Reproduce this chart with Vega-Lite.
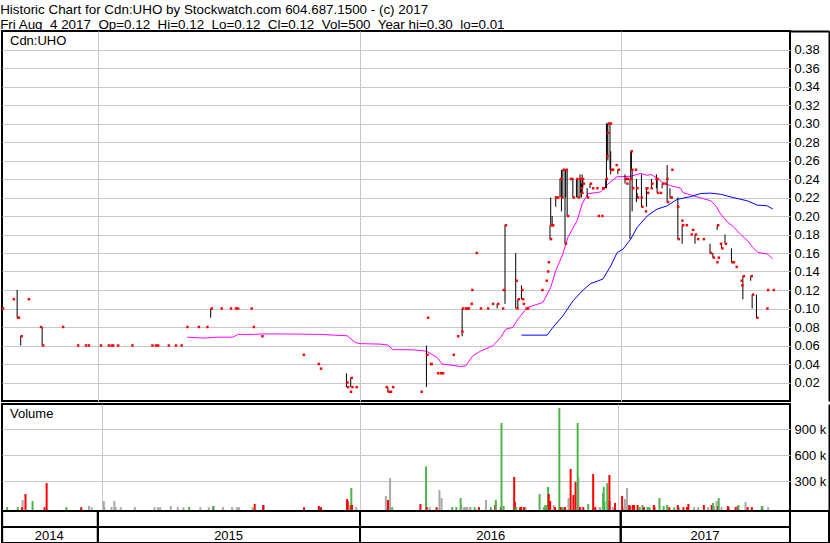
{
  "$schema": "https://vega.github.io/schema/vega-lite/v6.json",
  "padding": {"left": 0, "top": 2, "right": 0, "bottom": 0},
  "background": "white",
  "title": {
    "text": [
      "Historic Chart for Cdn:UHO by Stockwatch.com 604.687.1500 - (c) 2017",
      "Fri Aug\u00a0 4 2017\u00a0 Op=0.12\u00a0 Hi=0.12\u00a0 Lo=0.12\u00a0 Cl=0.12\u00a0 Vol=500\u00a0 Year hi=0.30\u00a0 lo=0.01"
    ],
    "anchor": "start",
    "frame": "bounds",
    "font": "Liberation Sans",
    "fontSize": 13.4,
    "fontWeight": "normal",
    "color": "black",
    "lineHeight": 15,
    "baseline": "top",
    "offset": -2
  },
  "config": {
    "view": {"stroke": "black", "strokeWidth": 2},
    "axis": {"labelFont": "Liberation Sans", "labelFontSize": 13, "labelColor": "black"},
    "title": {"font": "Liberation Sans", "fontWeight": "normal", "color": "black"}
  },
  "datasets": {
    "prices": [
      {"d": "2014-08-21", "h": 0.10, "l": 0.08, "c": 0.10},
      {"d": "2014-09-05", "c": 0.11},
      {"d": "2014-09-11", "h": 0.12, "l": 0.09, "c": 0.09},
      {"d": "2014-09-12", "c": 0.09},
      {"d": "2014-09-16", "h": 0.07, "l": 0.06, "c": 0.07},
      {"d": "2014-09-26", "c": 0.11},
      {"d": "2014-10-13", "c": 0.08},
      {"d": "2014-10-16", "h": 0.08, "l": 0.06, "c": 0.06},
      {"d": "2014-11-13", "c": 0.08},
      {"d": "2014-12-04", "c": 0.06},
      {"d": "2014-12-15", "c": 0.06},
      {"d": "2014-12-19", "c": 0.06},
      {"d": "2015-01-05", "c": 0.06},
      {"d": "2015-01-16", "c": 0.06},
      {"d": "2015-01-20", "c": 0.06},
      {"d": "2015-01-22", "c": 0.06},
      {"d": "2015-01-29", "c": 0.06},
      {"d": "2015-02-18", "c": 0.06},
      {"d": "2015-03-18", "c": 0.06},
      {"d": "2015-03-23", "c": 0.06},
      {"d": "2015-03-26", "c": 0.06},
      {"d": "2015-04-10", "c": 0.06},
      {"d": "2015-04-20", "c": 0.06},
      {"d": "2015-04-28", "c": 0.06},
      {"d": "2015-05-06", "c": 0.08},
      {"d": "2015-05-22", "c": 0.08},
      {"d": "2015-06-03", "c": 0.08},
      {"d": "2015-06-09", "h": 0.10, "l": 0.09, "c": 0.10},
      {"d": "2015-06-23", "c": 0.10},
      {"d": "2015-07-06", "c": 0.10},
      {"d": "2015-07-13", "c": 0.10},
      {"d": "2015-07-16", "c": 0.10},
      {"d": "2015-08-04", "c": 0.10},
      {"d": "2015-08-07", "c": 0.08},
      {"d": "2015-08-19", "c": 0.07},
      {"d": "2015-10-16", "c": 0.05},
      {"d": "2015-11-06", "c": 0.04},
      {"d": "2015-11-09", "c": 0.035},
      {"d": "2015-12-16", "h": 0.03, "l": 0.015, "c": 0.02},
      {"d": "2015-12-17", "c": 0.015},
      {"d": "2015-12-21", "c": 0.01},
      {"d": "2015-12-22", "h": 0.025, "l": 0.015, "c": 0.025},
      {"d": "2015-12-23", "c": 0.015},
      {"d": "2015-12-29", "c": 0.015},
      {"d": "2016-02-09", "c": 0.015},
      {"d": "2016-02-12", "h": 0.015, "l": 0.01, "c": 0.01},
      {"d": "2016-02-15", "c": 0.01},
      {"d": "2016-02-18", "c": 0.015},
      {"d": "2016-03-29", "c": 0.01},
      {"d": "2016-04-06", "h": 0.06, "l": 0.015, "c": 0.05},
      {"d": "2016-04-07", "c": 0.09},
      {"d": "2016-04-11", "c": 0.04},
      {"d": "2016-04-12", "c": 0.04},
      {"d": "2016-04-21", "c": 0.03},
      {"d": "2016-04-25", "c": 0.03},
      {"d": "2016-04-28", "c": 0.03},
      {"d": "2016-05-13", "c": 0.05},
      {"d": "2016-05-19", "c": 0.07},
      {"d": "2016-05-25", "c": 0.075},
      {"d": "2016-05-26", "h": 0.10, "l": 0.07, "c": 0.10},
      {"d": "2016-05-30", "c": 0.10},
      {"d": "2016-06-01", "c": 0.10},
      {"d": "2016-06-03", "c": 0.10},
      {"d": "2016-06-07", "c": 0.105},
      {"d": "2016-06-08", "c": 0.12},
      {"d": "2016-06-14", "c": 0.16},
      {"d": "2016-06-20", "c": 0.10},
      {"d": "2016-06-30", "c": 0.10},
      {"d": "2016-07-07", "c": 0.105},
      {"d": "2016-07-14", "h": 0.105, "l": 0.10, "c": 0.105},
      {"d": "2016-07-21", "c": 0.10},
      {"d": "2016-07-22", "c": 0.12},
      {"d": "2016-07-25", "h": 0.19, "l": 0.105, "c": 0.19},
      {"d": "2016-08-09", "h": 0.16, "l": 0.10, "c": 0.13},
      {"d": "2016-08-10", "c": 0.10},
      {"d": "2016-08-12", "h": 0.11, "l": 0.10, "c": 0.11},
      {"d": "2016-08-17", "h": 0.125, "l": 0.11, "c": 0.12},
      {"d": "2016-08-18", "c": 0.11},
      {"d": "2016-08-19", "c": 0.105},
      {"d": "2016-08-23", "c": 0.10},
      {"d": "2016-08-25", "c": 0.10},
      {"d": "2016-09-14", "c": 0.12},
      {"d": "2016-09-20", "c": 0.13},
      {"d": "2016-09-22", "c": 0.14},
      {"d": "2016-09-23", "c": 0.15},
      {"d": "2016-09-26", "h": 0.19, "l": 0.175, "c": 0.175},
      {"d": "2016-09-27", "h": 0.22, "l": 0.19, "c": 0.19},
      {"d": "2016-09-28", "c": 0.19},
      {"d": "2016-09-29", "h": 0.20, "l": 0.19, "c": 0.19},
      {"d": "2016-10-03", "c": 0.22},
      {"d": "2016-10-04", "h": 0.22, "l": 0.21, "c": 0.22},
      {"d": "2016-10-06", "c": 0.22},
      {"d": "2016-10-10", "h": 0.24, "l": 0.22, "c": 0.24},
      {"d": "2016-10-12", "h": 0.25, "l": 0.205, "c": 0.22},
      {"d": "2016-10-14", "h": 0.25, "l": 0.22, "c": 0.25},
      {"d": "2016-10-17", "h": 0.25, "l": 0.17, "c": 0.17},
      {"d": "2016-10-18", "h": 0.25, "l": 0.22, "c": 0.25},
      {"d": "2016-10-20", "h": 0.25, "l": 0.20, "c": 0.20},
      {"d": "2016-10-24", "c": 0.24},
      {"d": "2016-10-26", "c": 0.24},
      {"d": "2016-10-28", "h": 0.24, "l": 0.22, "c": 0.22},
      {"d": "2016-11-02", "h": 0.24, "l": 0.22, "c": 0.24},
      {"d": "2016-11-04", "h": 0.24, "l": 0.22, "c": 0.22},
      {"d": "2016-11-07", "h": 0.245, "l": 0.22, "c": 0.24},
      {"d": "2016-11-08", "h": 0.24, "l": 0.225, "c": 0.23},
      {"d": "2016-11-09", "h": 0.235, "l": 0.22, "c": 0.225},
      {"d": "2016-11-10", "h": 0.245, "l": 0.225, "c": 0.24},
      {"d": "2016-11-11", "h": 0.24, "l": 0.23, "c": 0.235},
      {"d": "2016-11-17", "h": 0.23, "l": 0.22, "c": 0.22},
      {"d": "2016-11-21", "h": 0.235, "l": 0.23, "c": 0.235},
      {"d": "2016-11-24", "c": 0.23},
      {"d": "2016-11-30", "c": 0.23},
      {"d": "2016-12-02", "c": 0.20},
      {"d": "2016-12-07", "c": 0.20},
      {"d": "2016-12-08", "c": 0.23},
      {"d": "2016-12-09", "c": 0.23},
      {"d": "2016-12-13", "h": 0.24, "l": 0.23, "c": 0.24},
      {"d": "2016-12-14", "h": 0.30, "l": 0.23, "c": 0.265},
      {"d": "2016-12-15", "h": 0.30, "l": 0.265, "c": 0.29},
      {"d": "2016-12-16", "h": 0.30, "l": 0.26, "c": 0.30},
      {"d": "2016-12-19", "h": 0.30, "l": 0.25, "c": 0.30},
      {"d": "2016-12-20", "h": 0.27, "l": 0.245, "c": 0.25},
      {"d": "2016-12-22", "c": 0.25},
      {"d": "2016-12-27", "c": 0.255},
      {"d": "2016-12-30", "h": 0.25, "l": 0.245, "c": 0.25},
      {"d": "2017-01-09", "h": 0.245, "l": 0.235, "c": 0.24},
      {"d": "2017-01-10", "c": 0.24},
      {"d": "2017-01-11", "c": 0.235},
      {"d": "2017-01-12", "c": 0.24},
      {"d": "2017-01-16", "h": 0.24, "l": 0.175, "c": 0.24},
      {"d": "2017-01-17", "h": 0.27, "l": 0.24, "c": 0.27},
      {"d": "2017-01-18", "h": 0.27, "l": 0.25, "c": 0.25},
      {"d": "2017-01-19", "h": 0.25, "l": 0.205, "c": 0.23},
      {"d": "2017-01-23", "c": 0.25},
      {"d": "2017-01-25", "h": 0.24, "l": 0.215, "c": 0.23},
      {"d": "2017-01-26", "h": 0.225, "l": 0.22, "c": 0.22},
      {"d": "2017-01-31", "c": 0.22},
      {"d": "2017-02-01", "h": 0.245, "l": 0.21, "c": 0.21},
      {"d": "2017-02-06", "c": 0.205},
      {"d": "2017-02-07", "c": 0.23},
      {"d": "2017-02-08", "h": 0.23, "l": 0.21, "c": 0.23},
      {"d": "2017-02-09", "c": 0.225},
      {"d": "2017-02-14", "c": 0.23},
      {"d": "2017-02-15", "h": 0.24, "l": 0.23, "c": 0.235},
      {"d": "2017-02-21", "c": 0.24},
      {"d": "2017-02-22", "h": 0.245, "l": 0.23, "c": 0.24},
      {"d": "2017-02-23", "h": 0.24, "l": 0.225, "c": 0.225},
      {"d": "2017-02-27", "c": 0.225},
      {"d": "2017-03-02", "h": 0.235, "l": 0.23, "c": 0.235},
      {"d": "2017-03-06", "c": 0.235},
      {"d": "2017-03-08", "c": 0.24},
      {"d": "2017-03-09", "h": 0.255, "l": 0.215, "c": 0.215},
      {"d": "2017-03-13", "h": 0.23, "l": 0.22, "c": 0.22},
      {"d": "2017-03-14", "c": 0.22},
      {"d": "2017-03-15", "c": 0.25},
      {"d": "2017-03-23", "c": 0.21},
      {"d": "2017-03-24", "h": 0.22, "l": 0.175, "c": 0.175},
      {"d": "2017-03-29", "c": 0.195},
      {"d": "2017-03-30", "h": 0.19, "l": 0.17, "c": 0.19},
      {"d": "2017-04-04", "c": 0.19},
      {"d": "2017-04-11", "c": 0.18},
      {"d": "2017-04-13", "c": 0.185},
      {"d": "2017-04-17", "h": 0.18, "l": 0.17, "c": 0.18},
      {"d": "2017-04-20", "c": 0.175},
      {"d": "2017-04-28", "c": 0.175},
      {"d": "2017-05-08", "h": 0.17, "l": 0.16, "c": 0.16},
      {"d": "2017-05-12", "h": 0.16, "l": 0.155, "c": 0.155},
      {"d": "2017-05-17", "c": 0.15},
      {"d": "2017-05-18", "h": 0.19, "l": 0.185, "c": 0.19},
      {"d": "2017-05-19", "c": 0.155},
      {"d": "2017-05-22", "c": 0.17},
      {"d": "2017-05-24", "h": 0.17, "l": 0.165, "c": 0.165},
      {"d": "2017-05-29", "h": 0.18, "l": 0.17, "c": 0.17},
      {"d": "2017-06-07", "h": 0.165, "l": 0.15, "c": 0.15},
      {"d": "2017-06-09", "c": 0.15},
      {"d": "2017-06-13", "c": 0.145},
      {"d": "2017-06-20", "c": 0.13},
      {"d": "2017-06-21", "c": 0.125},
      {"d": "2017-06-23", "h": 0.135, "l": 0.11, "c": 0.135},
      {"d": "2017-07-04", "h": 0.135, "l": 0.13, "c": 0.135},
      {"d": "2017-07-06", "h": 0.115, "l": 0.10, "c": 0.115},
      {"d": "2017-07-12", "h": 0.115, "l": 0.09, "c": 0.09},
      {"d": "2017-07-26", "c": 0.10},
      {"d": "2017-07-27", "c": 0.12},
      {"d": "2017-08-04", "c": 0.12}
    ],
    "averages": [
      {"d": "2015-05-07", "s": "fast", "v": 0.069},
      {"d": "2015-06-01", "s": "fast", "v": 0.068},
      {"d": "2015-06-18", "s": "fast", "v": 0.069},
      {"d": "2015-07-10", "s": "fast", "v": 0.069},
      {"d": "2015-07-17", "s": "fast", "v": 0.072},
      {"d": "2015-08-07", "s": "fast", "v": 0.072},
      {"d": "2015-08-20", "s": "fast", "v": 0.0725},
      {"d": "2015-09-18", "s": "fast", "v": 0.0725},
      {"d": "2015-11-10", "s": "fast", "v": 0.072},
      {"d": "2015-12-17", "s": "fast", "v": 0.0705},
      {"d": "2015-12-24", "s": "fast", "v": 0.066},
      {"d": "2015-12-29", "s": "fast", "v": 0.063},
      {"d": "2016-01-05", "s": "fast", "v": 0.062},
      {"d": "2016-02-01", "s": "fast", "v": 0.0615},
      {"d": "2016-02-12", "s": "fast", "v": 0.0605},
      {"d": "2016-02-19", "s": "fast", "v": 0.0555},
      {"d": "2016-03-18", "s": "fast", "v": 0.0553},
      {"d": "2016-04-05", "s": "fast", "v": 0.054},
      {"d": "2016-04-08", "s": "fast", "v": 0.053},
      {"d": "2016-04-21", "s": "fast", "v": 0.047},
      {"d": "2016-04-28", "s": "fast", "v": 0.040},
      {"d": "2016-05-24", "s": "fast", "v": 0.0373},
      {"d": "2016-05-31", "s": "fast", "v": 0.038},
      {"d": "2016-06-10", "s": "fast", "v": 0.049},
      {"d": "2016-06-21", "s": "fast", "v": 0.054},
      {"d": "2016-07-08", "s": "fast", "v": 0.0597},
      {"d": "2016-07-19", "s": "fast", "v": 0.0687},
      {"d": "2016-07-26", "s": "fast", "v": 0.0777},
      {"d": "2016-08-05", "s": "fast", "v": 0.0795},
      {"d": "2016-08-12", "s": "fast", "v": 0.0885},
      {"d": "2016-08-25", "s": "fast", "v": 0.101},
      {"d": "2016-09-16", "s": "fast", "v": 0.1065},
      {"d": "2016-09-27", "s": "fast", "v": 0.1227},
      {"d": "2016-10-04", "s": "fast", "v": 0.1408},
      {"d": "2016-10-14", "s": "fast", "v": 0.159},
      {"d": "2016-10-21", "s": "fast", "v": 0.177},
      {"d": "2016-11-03", "s": "fast", "v": 0.195},
      {"d": "2016-11-10", "s": "fast", "v": 0.213},
      {"d": "2016-11-18", "s": "fast", "v": 0.224},
      {"d": "2016-12-06", "s": "fast", "v": 0.226},
      {"d": "2016-12-16", "s": "fast", "v": 0.2345},
      {"d": "2016-12-29", "s": "fast", "v": 0.2424},
      {"d": "2017-01-17", "s": "fast", "v": 0.243},
      {"d": "2017-01-31", "s": "fast", "v": 0.246},
      {"d": "2017-02-09", "s": "fast", "v": 0.244},
      {"d": "2017-02-14", "s": "fast", "v": 0.245},
      {"d": "2017-02-23", "s": "fast", "v": 0.241},
      {"d": "2017-03-03", "s": "fast", "v": 0.236},
      {"d": "2017-03-14", "s": "fast", "v": 0.2327},
      {"d": "2017-03-28", "s": "fast", "v": 0.230},
      {"d": "2017-03-31", "s": "fast", "v": 0.2254},
      {"d": "2017-04-14", "s": "fast", "v": 0.222},
      {"d": "2017-05-09", "s": "fast", "v": 0.2165},
      {"d": "2017-05-16", "s": "fast", "v": 0.211},
      {"d": "2017-05-23", "s": "fast", "v": 0.202},
      {"d": "2017-06-02", "s": "fast", "v": 0.193},
      {"d": "2017-06-09", "s": "fast", "v": 0.189},
      {"d": "2017-06-20", "s": "fast", "v": 0.180},
      {"d": "2017-06-30", "s": "fast", "v": 0.173},
      {"d": "2017-07-07", "s": "fast", "v": 0.166},
      {"d": "2017-07-14", "s": "fast", "v": 0.1605},
      {"d": "2017-07-27", "s": "fast", "v": 0.159},
      {"d": "2017-08-02", "s": "fast", "v": 0.155},
      {"d": "2017-08-04", "s": "fast", "v": 0.1535},
      {"d": "2016-08-17", "s": "slow", "v": 0.0712},
      {"d": "2016-09-22", "s": "slow", "v": 0.0712},
      {"d": "2016-09-30", "s": "slow", "v": 0.0795},
      {"d": "2016-10-14", "s": "slow", "v": 0.092},
      {"d": "2016-10-28", "s": "slow", "v": 0.108},
      {"d": "2016-11-10", "s": "slow", "v": 0.119},
      {"d": "2016-11-22", "s": "slow", "v": 0.127},
      {"d": "2016-12-09", "s": "slow", "v": 0.1318},
      {"d": "2016-12-20", "s": "slow", "v": 0.146},
      {"d": "2016-12-29", "s": "slow", "v": 0.1605},
      {"d": "2017-01-06", "s": "slow", "v": 0.164},
      {"d": "2017-01-17", "s": "slow", "v": 0.175},
      {"d": "2017-01-26", "s": "slow", "v": 0.1876},
      {"d": "2017-02-09", "s": "slow", "v": 0.200},
      {"d": "2017-02-23", "s": "slow", "v": 0.2075},
      {"d": "2017-03-09", "s": "slow", "v": 0.211},
      {"d": "2017-03-23", "s": "slow", "v": 0.218},
      {"d": "2017-04-11", "s": "slow", "v": 0.221},
      {"d": "2017-04-25", "s": "slow", "v": 0.2243},
      {"d": "2017-05-09", "s": "slow", "v": 0.2247},
      {"d": "2017-05-23", "s": "slow", "v": 0.2235},
      {"d": "2017-06-09", "s": "slow", "v": 0.220},
      {"d": "2017-06-29", "s": "slow", "v": 0.2165},
      {"d": "2017-07-13", "s": "slow", "v": 0.2118},
      {"d": "2017-07-27", "s": "slow", "v": 0.211},
      {"d": "2017-08-04", "s": "slow", "v": 0.2075}
    ],
    "volume": [
      {"d": "2014-08-21", "v": 3000, "t": "up"},
      {"d": "2014-09-05", "v": 2000, "t": "up"},
      {"d": "2014-09-11", "v": 1000, "t": "down"},
      {"d": "2014-09-12", "v": 84000, "t": "unch"},
      {"d": "2014-09-16", "v": 153000, "t": "down"},
      {"d": "2014-09-26", "v": 73000, "t": "up"},
      {"d": "2014-10-13", "v": 1000, "t": "down"},
      {"d": "2014-10-16", "v": 280000, "t": "down"},
      {"d": "2014-11-13", "v": 2000, "t": "up"},
      {"d": "2014-12-04", "v": 1000, "t": "down"},
      {"d": "2014-12-15", "v": 15000, "t": "unch"},
      {"d": "2014-12-19", "v": 1000, "t": "unch"},
      {"d": "2015-01-05", "v": 73000, "t": "unch"},
      {"d": "2015-01-06", "v": 3000, "t": "unch"},
      {"d": "2015-01-16", "v": 3000, "t": "unch"},
      {"d": "2015-01-20", "v": 73000, "t": "unch"},
      {"d": "2015-01-22", "v": 3000, "t": "unch"},
      {"d": "2015-01-29", "v": 1000, "t": "unch"},
      {"d": "2015-02-18", "v": 3000, "t": "unch"},
      {"d": "2015-03-18", "v": 1000, "t": "unch"},
      {"d": "2015-03-23", "v": 1000, "t": "unch"},
      {"d": "2015-03-26", "v": 1000, "t": "unch"},
      {"d": "2015-04-10", "v": 15000, "t": "unch"},
      {"d": "2015-04-20", "v": 1000, "t": "unch"},
      {"d": "2015-04-28", "v": 1000, "t": "unch"},
      {"d": "2015-05-06", "v": 3000, "t": "up"},
      {"d": "2015-05-22", "v": 2000, "t": "unch"},
      {"d": "2015-06-03", "v": 1000, "t": "unch"},
      {"d": "2015-06-09", "v": 15000, "t": "up"},
      {"d": "2015-06-10", "v": 15000, "t": "unch"},
      {"d": "2015-06-23", "v": 1000, "t": "unch"},
      {"d": "2015-07-06", "v": 2000, "t": "unch"},
      {"d": "2015-07-13", "v": 1000, "t": "unch"},
      {"d": "2015-07-16", "v": 1000, "t": "unch"},
      {"d": "2015-08-04", "v": 1000, "t": "unch"},
      {"d": "2015-08-07", "v": 38000, "t": "down"},
      {"d": "2015-08-19", "v": 26500, "t": "down"},
      {"d": "2015-08-20", "v": 26500, "t": "unch"},
      {"d": "2015-10-16", "v": 1000, "t": "down"},
      {"d": "2015-11-06", "v": 15000, "t": "down"},
      {"d": "2015-11-09", "v": 1000, "t": "down"},
      {"d": "2015-12-16", "v": 96000, "t": "down"},
      {"d": "2015-12-17", "v": 73000, "t": "down"},
      {"d": "2015-12-21", "v": 26500, "t": "down"},
      {"d": "2015-12-22", "v": 223000, "t": "up"},
      {"d": "2015-12-23", "v": 26500, "t": "down"},
      {"d": "2015-12-29", "v": 3000, "t": "unch"},
      {"d": "2016-02-09", "v": 130000, "t": "unch"},
      {"d": "2016-02-12", "v": 84000, "t": "down"},
      {"d": "2016-02-15", "v": 338000, "t": "unch"},
      {"d": "2016-02-18", "v": 1000, "t": "up"},
      {"d": "2016-03-29", "v": 38000, "t": "down"},
      {"d": "2016-04-06", "v": 473000, "t": "up"},
      {"d": "2016-04-07", "v": 2000, "t": "down"},
      {"d": "2016-04-11", "v": 2000, "t": "unch"},
      {"d": "2016-04-21", "v": 1000, "t": "down"},
      {"d": "2016-04-25", "v": 200000, "t": "unch"},
      {"d": "2016-04-28", "v": 107000, "t": "unch"},
      {"d": "2016-05-13", "v": 2000, "t": "up"},
      {"d": "2016-05-19", "v": 2000, "t": "up"},
      {"d": "2016-05-25", "v": 107000, "t": "up"},
      {"d": "2016-05-26", "v": 26500, "t": "unch"},
      {"d": "2016-05-30", "v": 3000, "t": "unch"},
      {"d": "2016-06-01", "v": 2000, "t": "unch"},
      {"d": "2016-06-03", "v": 2000, "t": "unch"},
      {"d": "2016-06-07", "v": 2000, "t": "unch"},
      {"d": "2016-06-08", "v": 2000, "t": "unch"},
      {"d": "2016-06-14", "v": 1000, "t": "up"},
      {"d": "2016-06-20", "v": 2000, "t": "down"},
      {"d": "2016-06-30", "v": 84000, "t": "unch"},
      {"d": "2016-07-07", "v": 1000, "t": "up"},
      {"d": "2016-07-13", "v": 26500, "t": "down"},
      {"d": "2016-07-14", "v": 84000, "t": "up"},
      {"d": "2016-07-21", "v": 1000, "t": "down"},
      {"d": "2016-07-22", "v": 973000, "t": "up"},
      {"d": "2016-07-25", "v": 15000, "t": "up"},
      {"d": "2016-08-09", "v": 350000, "t": "down"},
      {"d": "2016-08-10", "v": 61000, "t": "down"},
      {"d": "2016-08-11", "v": 2000, "t": "up"},
      {"d": "2016-08-12", "v": 3000, "t": "up"},
      {"d": "2016-08-17", "v": 2000, "t": "up"},
      {"d": "2016-08-18", "v": 1000, "t": "down"},
      {"d": "2016-08-19", "v": 1000, "t": "down"},
      {"d": "2016-08-23", "v": 1000, "t": "down"},
      {"d": "2016-08-25", "v": 1000, "t": "unch"},
      {"d": "2016-09-14", "v": 153000, "t": "up"},
      {"d": "2016-09-20", "v": 1000, "t": "up"},
      {"d": "2016-09-22", "v": 26500, "t": "up"},
      {"d": "2016-09-23", "v": 26500, "t": "up"},
      {"d": "2016-09-26", "v": 234000, "t": "up"},
      {"d": "2016-09-27", "v": 153000, "t": "down"},
      {"d": "2016-09-28", "v": 26500, "t": "unch"},
      {"d": "2016-09-29", "v": 73000, "t": "down"},
      {"d": "2016-10-04", "v": 26500, "t": "unch"},
      {"d": "2016-10-06", "v": 3000, "t": "down"},
      {"d": "2016-10-12", "v": 1146000, "t": "up"},
      {"d": "2016-10-14", "v": 3000, "t": "down"},
      {"d": "2016-10-17", "v": 1000, "t": "up"},
      {"d": "2016-10-20", "v": 1000, "t": "down"},
      {"d": "2016-10-25", "v": 107000, "t": "unch"},
      {"d": "2016-10-28", "v": 442000, "t": "down"},
      {"d": "2016-11-01", "v": 142000, "t": "down"},
      {"d": "2016-11-04", "v": 292000, "t": "down"},
      {"d": "2016-11-07", "v": 973000, "t": "up"},
      {"d": "2016-11-08", "v": 350000, "t": "unch"},
      {"d": "2016-11-10", "v": 3000, "t": "down"},
      {"d": "2016-11-11", "v": 3000, "t": "unch"},
      {"d": "2016-11-15", "v": 3000, "t": "down"},
      {"d": "2016-11-22", "v": 38000, "t": "up"},
      {"d": "2016-11-29", "v": 384000, "t": "down"},
      {"d": "2016-12-02", "v": 3000, "t": "down"},
      {"d": "2016-12-08", "v": 1000, "t": "unch"},
      {"d": "2016-12-09", "v": 1000, "t": "unch"},
      {"d": "2016-12-13", "v": 165000, "t": "up"},
      {"d": "2016-12-14", "v": 234000, "t": "up"},
      {"d": "2016-12-15", "v": 73000, "t": "up"},
      {"d": "2016-12-19", "v": 280000, "t": "up"},
      {"d": "2016-12-20", "v": 73000, "t": "unch"},
      {"d": "2016-12-22", "v": 373000, "t": "down"},
      {"d": "2016-12-23", "v": 73000, "t": "unch"},
      {"d": "2016-12-27", "v": 1000, "t": "unch"},
      {"d": "2016-12-30", "v": 50000, "t": "down"},
      {"d": "2017-01-09", "v": 130000, "t": "down"},
      {"d": "2017-01-10", "v": 1000, "t": "unch"},
      {"d": "2017-01-13", "v": 96000, "t": "unch"},
      {"d": "2017-01-16", "v": 223000, "t": "unch"},
      {"d": "2017-01-19", "v": 26500, "t": "down"},
      {"d": "2017-01-20", "v": 15000, "t": "down"},
      {"d": "2017-01-24", "v": 26500, "t": "down"},
      {"d": "2017-01-26", "v": 26500, "t": "down"},
      {"d": "2017-01-31", "v": 26500, "t": "down"},
      {"d": "2017-02-03", "v": 3000, "t": "up"},
      {"d": "2017-02-07", "v": 26500, "t": "up"},
      {"d": "2017-02-09", "v": 2000, "t": "down"},
      {"d": "2017-02-14", "v": 3000, "t": "up"},
      {"d": "2017-02-16", "v": 2000, "t": "unch"},
      {"d": "2017-02-17", "v": 2000, "t": "up"},
      {"d": "2017-02-23", "v": 26500, "t": "down"},
      {"d": "2017-02-24", "v": 3000, "t": "down"},
      {"d": "2017-03-03", "v": 107000, "t": "up"},
      {"d": "2017-03-09", "v": 15000, "t": "up"},
      {"d": "2017-03-14", "v": 26500, "t": "up"},
      {"d": "2017-03-17", "v": 1000, "t": "down"},
      {"d": "2017-03-24", "v": 1000, "t": "up"},
      {"d": "2017-03-29", "v": 26500, "t": "down"},
      {"d": "2017-03-31", "v": 1000, "t": "unch"},
      {"d": "2017-04-06", "v": 1000, "t": "down"},
      {"d": "2017-04-11", "v": 3000, "t": "down"},
      {"d": "2017-04-13", "v": 38000, "t": "down"},
      {"d": "2017-04-21", "v": 2000, "t": "unch"},
      {"d": "2017-04-27", "v": 1000, "t": "unch"},
      {"d": "2017-05-05", "v": 26500, "t": "down"},
      {"d": "2017-05-11", "v": 3000, "t": "unch"},
      {"d": "2017-05-16", "v": 26500, "t": "down"},
      {"d": "2017-05-18", "v": 50000, "t": "up"},
      {"d": "2017-05-19", "v": 15000, "t": "unch"},
      {"d": "2017-05-23", "v": 73000, "t": "unch"},
      {"d": "2017-05-25", "v": 15000, "t": "down"},
      {"d": "2017-05-26", "v": 107000, "t": "up"},
      {"d": "2017-05-30", "v": 3000, "t": "unch"},
      {"d": "2017-06-08", "v": 15000, "t": "down"},
      {"d": "2017-06-09", "v": 2000, "t": "down"},
      {"d": "2017-06-19", "v": 2000, "t": "down"},
      {"d": "2017-06-22", "v": 15000, "t": "down"},
      {"d": "2017-06-23", "v": 26500, "t": "up"},
      {"d": "2017-07-03", "v": 61000, "t": "unch"},
      {"d": "2017-07-06", "v": 2000, "t": "down"},
      {"d": "2017-07-12", "v": 2000, "t": "down"},
      {"d": "2017-07-26", "v": 15000, "t": "up"},
      {"d": "2017-07-27", "v": 15000, "t": "up"},
      {"d": "2017-08-04", "v": 1000, "t": "unch"}
    ],
    "years": [
      {"year": "2014", "start": "2014-08-21", "end": "2015-01-02", "mid": "2014-10-26", "row": "m"},
      {"year": "2015", "start": "2015-01-02", "end": "2016-01-04", "mid": "2015-07-04", "row": "m"},
      {"year": "2016", "start": "2016-01-04", "end": "2017-01-03", "mid": "2016-07-05", "row": "m"},
      {"year": "2017", "start": "2017-01-03", "end": "2017-08-28", "mid": "2017-05-01", "row": "m"},
      {"year": "2014", "start": "2014-08-21", "end": "2015-01-02", "mid": "2014-10-26", "row": "y"},
      {"year": "2015", "start": "2015-01-02", "end": "2016-01-04", "mid": "2015-07-04", "row": "y"},
      {"year": "2016", "start": "2016-01-04", "end": "2017-01-03", "mid": "2016-07-05", "row": "y"},
      {"year": "2017", "start": "2017-01-03", "end": "2017-08-28", "mid": "2017-05-01", "row": "y"}
    ]
  },
  "spacing": 3,
  "bounds": "flush",
  "resolve": {"scale": {"color": "independent"}},
  "vconcat": [
    {
      "width": 788,
      "height": 370,
      "title": {"text": "Cdn:UHO", "anchor": "start", "frame": "group", "orient": "top", "baseline": "alphabetic", "offset": -27.5, "dx": 8, "fontSize": 13},
      "encoding": {
        "x": {
          "field": "d", "type": "temporal",
          "scale": {"domain": [{"year": 2014, "month": 8, "date": 20, "hours": 19}, {"year": 2017, "month": 8, "date": 28}], "nice": false},
          "axis": {"values": [{"year": 2015, "month": 1, "date": 2}, {"year": 2016, "month": 1, "date": 4}, {"year": 2017, "month": 1, "date": 3}], "grid": true, "gridColor": "#c8c8c8", "labels": false, "ticks": false, "domain": false, "title": null}
        }
      },
      "layer": [
        {
          "data": {"name": "averages"},
          "mark": {"type": "line", "strokeWidth": 1},
          "encoding": {
            "y": {"field": "v", "type": "quantitative", "scale": {"domain": [0, 0.4], "nice": false},
                  "axis": {"orient": "right", "offset": 39, "values": [0.4], "labels": false, "grid": false, "domain": true, "domainColor": "black", "domainWidth": 2, "ticks": true, "tickSize": -39, "tickWidth": 2, "tickColor": "black", "title": null}},
            "color": {"field": "s", "type": "nominal", "scale": {"domain": ["fast", "slow"], "range": ["#ff00ff", "#0000ff"]}, "legend": null}
          }
        },
        {
          "data": {"name": "prices"},
          "transform": [{"filter": "isValid(datum.h)"}],
          "mark": {"type": "rule", "color": "black", "strokeWidth": 1},
          "encoding": {
            "y": {"field": "l", "type": "quantitative", "scale": {"domain": [0, 0.4], "nice": false},
                  "axis": {"orient": "right", "values": [0.02, 0.04, 0.06, 0.08, 0.10, 0.12, 0.14, 0.16, 0.18, 0.20, 0.22, 0.24, 0.26, 0.28, 0.30, 0.32, 0.34, 0.36, 0.38], "format": ".2f", "grid": true, "gridColor": "#c8c8c8", "domain": false, "ticks": false, "labelPadding": 4, "title": null}},
            "y2": {"field": "h"}
          }
        },
        {
          "data": {"name": "prices"},
          "mark": {"type": "square", "color": "#ff0000", "filled": true, "opacity": 1, "size": 6, "xOffset": 1},
          "encoding": {
            "y": {"field": "c", "type": "quantitative", "scale": {"domain": [0, 0.4], "nice": false}, "axis": null}
          }
        }
      ],
      "resolve": {"axis": {"y": "independent"}}
    },
    {
      "spacing": 0,
      "bounds": "flush",
      "resolve": {"scale": {"color": "independent"}},
      "vconcat": [
        {
          "width": 788,
          "height": 107,
          "title": {"text": "Volume", "anchor": "start", "frame": "group", "orient": "top", "baseline": "alphabetic", "offset": -27, "dx": 8, "fontSize": 13},
          "data": {"name": "volume"},
          "encoding": {
            "x": {
              "field": "d", "type": "temporal",
              "scale": {"domain": [{"year": 2014, "month": 8, "date": 20, "hours": 19}, {"year": 2017, "month": 8, "date": 28}], "nice": false},
              "axis": {"values": [{"year": 2015, "month": 1, "date": 2}, {"year": 2016, "month": 1, "date": 4}, {"year": 2017, "month": 1, "date": 3}], "grid": true, "gridColor": "#c8c8c8", "labels": false, "ticks": false, "domain": false, "title": null}
            }
          },
          "layer": [
            {
              "transform": [{"filter": "datum.t === 'unch'"}],
              "mark": {"type": "bar", "size": 2, "color": "#a8a8a8"},
              "encoding": {
                "y": {"field": "v", "type": "quantitative", "scale": {"domain": [-42700, 1191900], "nice": false, "zero": false},
                      "axis": {"orient": "right", "offset": 39, "labels": false, "grid": false, "ticks": false, "domain": true, "domainColor": "black", "domainWidth": 2, "title": null}},
                "y2": {"datum": -42700}
              }
            },
            {
              "transform": [{"filter": "datum.t !== 'unch'"}],
              "mark": {"type": "bar", "size": 2},
              "encoding": {
                "y": {"field": "v", "type": "quantitative", "scale": {"domain": [-42700, 1191900], "nice": false, "zero": false},
                      "axis": {"orient": "right", "values": [300000, 600000, 900000], "labelExpr": "format(datum.value / 1000, 'd') + ' k'", "grid": true, "gridColor": "#c8c8c8", "domain": false, "ticks": false, "labelPadding": 4, "title": null}},
                "y2": {"datum": -42700},
                "color": {"field": "t", "type": "nominal", "scale": {"domain": ["up", "down"], "range": ["#4cb44c", "#ff0000"]}, "legend": null}
              }
            }
          ],
          "resolve": {"axis": {"y": "independent"}}
        },
        {
          "width": 827,
          "height": 32,
          "data": {"name": "years"},
          "layer": [
            {
              "mark": {"type": "rect", "filled": false, "stroke": "black", "strokeWidth": 2},
              "encoding": {
                "x": {"field": "start", "type": "temporal", "scale": {"domain": [{"year": 2014, "month": 8, "date": 20, "hours": 19}, {"year": 2017, "month": 10, "date": 21, "hours": 14}], "nice": false}, "axis": null},
                "x2": {"field": "end"},
                "y": {"field": "row", "type": "nominal", "scale": {"domain": ["m", "y"], "paddingInner": 0, "paddingOuter": 0}, "axis": null}
              }
            },
            {
              "transform": [{"filter": "datum.row === 'y'"}],
              "mark": {"type": "text", "font": "Liberation Sans", "fontSize": 13, "color": "black", "dy": 1},
              "encoding": {
                "x": {"field": "mid", "type": "temporal", "scale": {"domain": [{"year": 2014, "month": 8, "date": 20, "hours": 19}, {"year": 2017, "month": 10, "date": 21, "hours": 14}], "nice": false}, "axis": null},
                "y": {"field": "row", "type": "nominal", "scale": {"domain": ["m", "y"], "paddingInner": 0, "paddingOuter": 0}, "axis": null},
                "text": {"field": "year"}
              }
            }
          ]
        }
      ]
    }
  ]
}
